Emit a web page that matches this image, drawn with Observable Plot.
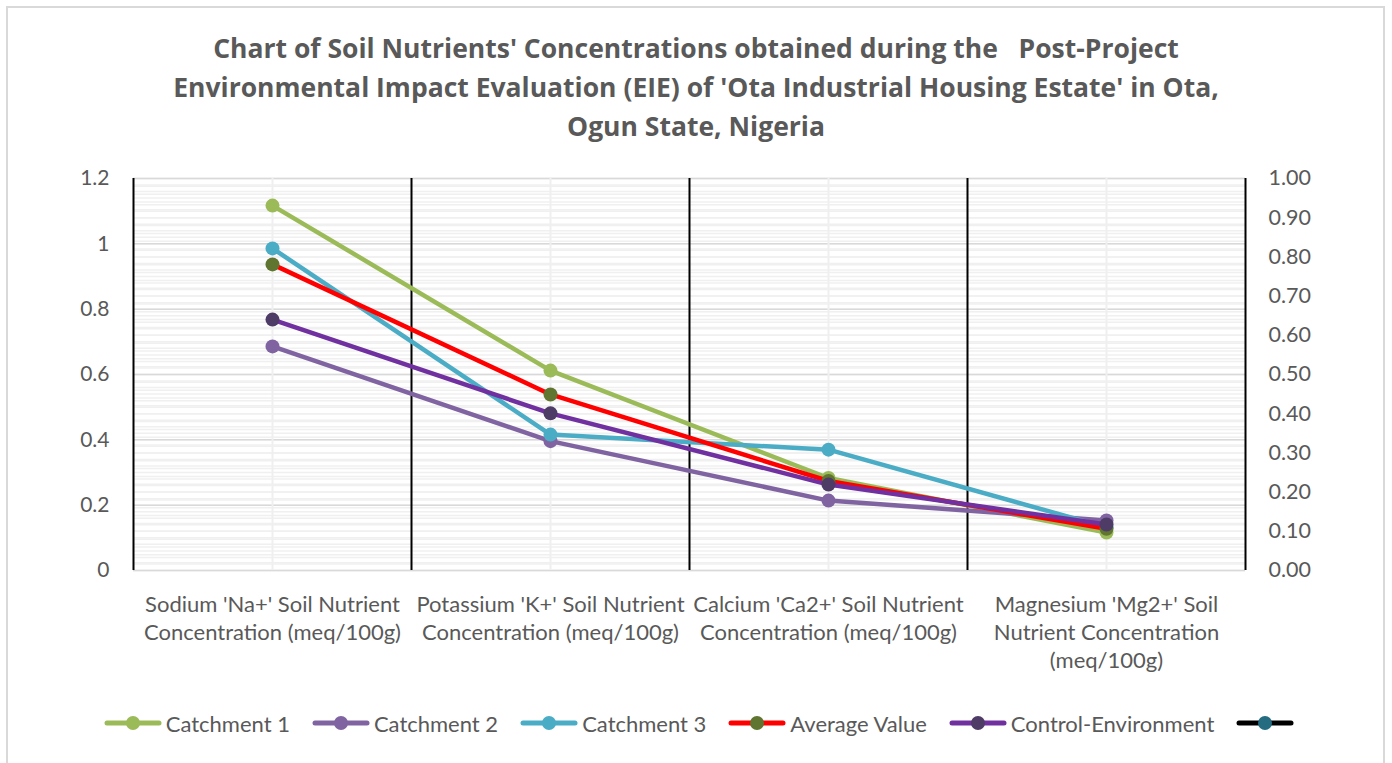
<!DOCTYPE html>
<html>
<head>
<meta charset="utf-8">
<script src="https://cdn.jsdelivr.net/npm/d3@7"></script>
<script src="https://cdn.jsdelivr.net/npm/@observablehq/plot@0.6"></script>
<style>
  html, body { margin: 0; padding: 0; background: #fff; }
  #frame { position: absolute; left: 6px; top: 6px; width: 1379px; height: 800px; border: 2px solid #d9d9d9; box-sizing: border-box; }
  #wrap { position: absolute; left: 0; top: 0; width: 1392px; }
  #title { height: 150px; box-sizing: border-box; padding-top: 29px; text-align: center; font-family: "Open Sans", sans-serif; font-weight: bold; font-size: 26.5px; line-height: 39px; color: #595959; white-space: pre; }
  #legend { height: 86px; display: flex; justify-content: center; align-items: center; gap: 22px; font-family: Lato, "Open Sans", sans-serif; font-size: 22px; color: #595959; padding-left: 6px; box-sizing: border-box; }
  .item { display: flex; align-items: center; gap: 4px; }
  svg.sw { display: block; }
</style>
</head>
<body>
<div id="frame"></div>
<div id="wrap">
  <div id="title"></div>
  <div id="chart"></div>
  <div id="legend"></div>
</div>
<script>
// ---- data ----
const titleLines = [
  "Chart of Soil Nutrients' Concentrations obtained during the   Post-Project",
  "Environmental Impact Evaluation (EIE) of 'Ota Industrial Housing Estate' in Ota,",
  "Ogun State, Nigeria"
];
const categories = ["Na", "K", "Ca", "Mg"];
const categoryLabels = [
  "Sodium 'Na+' Soil Nutrient\nConcentration (meq/100g)",
  "Potassium 'K+' Soil Nutrient\nConcentration (meq/100g)",
  "Calcium 'Ca2+' Soil Nutrient\nConcentration (meq/100g)",
  "Magnesium 'Mg2+' Soil\nNutrient Concentration\n(meq/100g)"
];
const seriesNames = ["Catchment 1", "Catchment 2", "Catchment 3", "Average Value", "Control-Environment", ""];
const catchment1 = [1.117, 0.612, 0.283, 0.116];
const catchment2 = [0.686, 0.396, 0.214, 0.153];
const catchment3 = [0.986, 0.416, 0.370, 0.132];
const averageValue = [0.937, 0.539, 0.274, 0.128];
const controlEnv = [0.768, 0.481, 0.263, 0.141];
const emptySeries = [null, null, null, null];
const lineColors = ["#9BBB59", "#8064A2", "#4BACC6", "#FF0000", "#7030A0", "#000000"];
const markerColors = ["#9BBB59", "#8064A2", "#4BACC6", "#5F7530", "#4E3B66", "#266C81"];
const leftTicks = [0, 0.2, 0.4, 0.6, 0.8, 1.0, 1.2];
const leftTickLabels = ["0", "0.2", "0.4", "0.6", "0.8", "1", "1.2"];
const rightTicks = [0, 0.1, 0.2, 0.3, 0.4, 0.5, 0.6, 0.7, 0.8, 0.9, 1.0];
const leftMax = 1.2, rightMax = 1.0;

// ---- title ----
document.getElementById("title").textContent = titleLines.join("\n");

// ---- build table ----
const allSeries = [catchment1, catchment2, catchment3, averageValue, controlEnv, emptySeries];
const rows = [];
allSeries.forEach((vals, si) => vals.forEach((v, ci) => {
  if (v != null) rows.push({series: si, cat: categories[ci], value: v});
}));

const W = 1392, mL = 133, mR = W - 1245, mT = 28, mB = 110, H = 530;
const band = (W - mL - mR) / categories.length;
const font = "Lato, 'Open Sans', sans-serif";
const toLeft = r => r * leftMax / rightMax;

const marks = [
  // minor gridlines (left & right axes)
  Plot.ruleY(d3.range(0, leftMax + 1e-9, 0.02), {stroke: "#f0f0f0", strokeWidth: 1.5}),
  Plot.ruleY(d3.range(0, rightMax + 1e-9, 0.02).map(toLeft), {stroke: "#f0f0f0", strokeWidth: 1.5}),
  // major gridlines
  Plot.ruleY(leftTicks, {stroke: "#d9d9d9", strokeWidth: 1.5}),
  // faint vertical at category centres
  Plot.ruleX(categories, {x: d => d, y1: 0, y2: leftMax, stroke: "#efefef", strokeWidth: 2}),
  // black category boundaries
  Plot.ruleX(categories, {x: d => d, y1: 0, y2: leftMax, dx: -band / 2, stroke: "#000", strokeWidth: 2}),
  Plot.ruleX(categories.slice(-1), {x: d => d, y1: 0, y2: leftMax, dx: band / 2, stroke: "#000", strokeWidth: 2}),
  // axes
  Plot.axisY(leftTicks, {anchor: "left", tickSize: 0, tickPadding: 24, tickFormat: (d, i) => leftTickLabels[i], fontSize: 21, fill: "#595959", label: null}),
  Plot.axisY(rightTicks.map(toLeft), {anchor: "right", tickSize: 0, tickPadding: 23, tickFormat: (d, i) => rightTicks[i].toFixed(2), fontSize: 21.5, fill: "#595959", label: null}),
  Plot.axisX(categories, {anchor: "bottom", tickSize: 0, tickPadding: 22, tickFormat: (d, i) => categoryLabels[categories.indexOf(d)], fontSize: 22, fill: "#595959", lineHeight: 1.27, label: null}),
];
allSeries.forEach((vals, si) => {
  const data = rows.filter(r => r.series === si);
  marks.push(Plot.line(data, {x: "cat", y: "value", stroke: lineColors[si], strokeWidth: 4.5, strokeLinecap: "round"}));
  marks.push(Plot.dot(data, {x: "cat", y: "value", r: 7, fill: markerColors[si], stroke: "none"}));
});

const chart = Plot.plot({
  width: W, height: H,
  marginLeft: mL, marginRight: mR, marginTop: mT, marginBottom: mB,
  style: {fontFamily: font, background: "transparent", overflow: "visible"},
  x: {type: "band", domain: categories, padding: 0, axis: null},
  y: {domain: [0, leftMax], axis: null},
  marks
});
document.getElementById("chart").appendChild(chart);

// ---- legend ----
const legend = document.getElementById("legend");
seriesNames.forEach((name, si) => {
  const item = document.createElement("div");
  item.className = "item";
  const ns = "http://www.w3.org/2000/svg";
  const sw = document.createElementNS(ns, "svg");
  sw.setAttribute("class", "sw"); sw.setAttribute("width", 58); sw.setAttribute("height", 18);
  const ln = document.createElementNS(ns, "line");
  ln.setAttribute("x1", 3); ln.setAttribute("x2", 55); ln.setAttribute("y1", 9); ln.setAttribute("y2", 9);
  ln.setAttribute("stroke", lineColors[si]); ln.setAttribute("stroke-width", 5); ln.setAttribute("stroke-linecap", "round");
  const c = document.createElementNS(ns, "circle");
  c.setAttribute("cx", 29); c.setAttribute("cy", 9); c.setAttribute("r", 7); c.setAttribute("fill", markerColors[si]);
  sw.appendChild(ln); sw.appendChild(c);
  item.appendChild(sw);
  if (name) { const t = document.createElement("span"); t.textContent = name; item.appendChild(t); }
  legend.appendChild(item);
});
</script>
</body>
</html>
